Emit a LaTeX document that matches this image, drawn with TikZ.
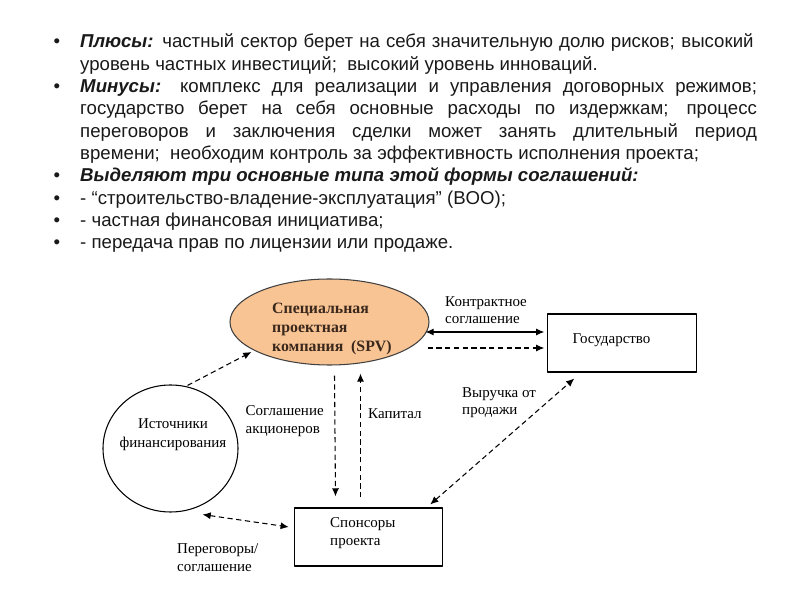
\documentclass[tikz,border=0pt]{standalone}
\usepackage{fontspec}
\setmainfont{Liberation Serif}
\newfontfamily\bodysans{Liberation Sans}
\usetikzlibrary{shapes.geometric,calc,arrows.meta}
\definecolor{spvfill}{RGB}{249,196,148}
\definecolor{spvtext}{RGB}{58,40,28}
\definecolor{inkgray}{RGB}{25,25,25}
\tikzset{
  txtline/.style={anchor=base west, inner sep=0pt, font=\bodysans\fontsize{15.9}{19}\selectfont, text=inkgray},
  lbl/.style={anchor=north west, inner sep=0pt, align=left, font=\fontsize{12.8}{15.3}\selectfont},
  boxnode/.style={draw, line width=0.9pt, minimum width=4.45cm, minimum height=1.74cm, inner sep=0pt},
  dsh/.style={dash pattern=on 4.5pt off 3pt, line width=0.9pt}
}
\begin{document}
\begin{tikzpicture}[x=0.03cm, y=-0.03cm, >={Latex[length=7pt,width=6pt]}, line join=round]
\useasboundingbox (0,0) rectangle (800,600);
% text above the diagram
\foreach \i/\y in {1/48, 3/92.6, 7/181.8, 8/204.1, 9/226.4, 10/248.7} {
  \node[anchor=base, inner sep=0pt, text=inkgray, font=\bodysans\fontsize{15.9}{19}\selectfont] (b\i) at (57,\y) {•};
}
\node[txtline] (l1) at (80,48) {\makebox[20.2cm][s]{\textbf{\textit{Плюсы:}} частный сектор берет на себя значительную долю рисков; высокий}};
\node[txtline] (l2) at (80,70.3) {уровень частных инвестиций;\ \ высокий уровень инноваций.};
\node[txtline] (l3) at (80,92.6) {\makebox[20.3cm][s]{\textbf{\textit{Минусы:}} комплекс для реализации и управления договорных режимов;}};
\node[txtline] (l4) at (80,114.9) {\makebox[20.3cm][s]{государство берет на себя основные расходы по издержкам; процесс}};
\node[txtline] (l5) at (80,137.2) {\makebox[20.3cm][s]{переговоров и заключения сделки может занять длительный период}};
\node[txtline] (l6) at (80,159.5) {времени;\ \ необходим контроль за эффективность исполнения проекта;};
\node[txtline] (l7) at (80,181.8) {\textbf{\textit{Выделяют три основные типа этой формы соглашений:}}};
\node[txtline] (l8) at (80,204.1) {- “строительство-владение-эксплуатация” (BOO);};
\node[txtline] (l9) at (80,226.4) {- частная финансовая инициатива;};
\node[txtline] (l10) at (80,248.7) {- передача прав по лицензии или продаже.};
% diagram
\node[ellipse, draw=black!75, fill=spvfill, line width=0.9pt, minimum width=5.97cm, minimum height=2.58cm, inner sep=0pt] (spv) at (329.5,322) {};
\node[anchor=north west, inner sep=0pt, align=left, text=spvtext, font=\bfseries\fontsize{13.5}{16.2}\selectfont] (spvname) at (272,303) {Специальная\\проектная\\компания\ \ (SPV)};
\node[boxnode] (gos) at (622,343) {};
\node[anchor=base west, inner sep=0pt, font=\fontsize{12.8}{15}\selectfont] (gosname) at (572.5,344) {Государство};
\node[ellipse, draw, line width=0.9pt, minimum width=4.05cm, minimum height=3.81cm, inner sep=0pt] (fin) at (170.5,448.5) {};
\node[inner sep=0pt, align=center, font=\fontsize{12.8}{16}\selectfont] (finname) at (173,435) {Источники\\финансирования};
\node[boxnode] (spons) at (368.5,537) {};
\node[lbl] (sponsname) at (330,517) {Спонсоры\\проекта};
% connectors
\draw[<->, line width=0.9pt] ($(spv.east)+(-4,10)$) -- ($(gos.west)+(-3,-11)$);
\draw[dsh, ->] ($(spv.east)+(-2,26)$) -- ($(gos.west)+(-3,5)$);
\draw[dsh, ->] ($(fin.north)+(17,1)$) -- ($(spv.west)+(22,30)$);
\draw[dsh, ->] ($(spv.south)+(5,10)$) -- ($(spons.north)+(-33,-11)$);
\draw[dsh, ->] ($(spons.north)+(-8,-10)$) -- ($(spv.south)+(31,8)$);
\draw[dsh, <->] ($(spons.north east)+(-13,-3)$) -- ($(gos.south west)+(27,6)$);
\draw[dsh, <->] ($(fin.south)+(32,2)$) -- ($(spons.west)+(-5,-10)$);
% labels
\node[lbl] (contract) at (445,296) {Контрактное\\соглашение};
\node[lbl] (shareh) at (245.5,405) {Соглашение\\акционеров};
\node[lbl] (capital) at (368,408) {Капитал};
\node[lbl] (revenue) at (462,387) {Выручка от\\продажи};
\node[lbl] (negot) at (177,543) {Переговоры/\\соглашение};
\end{tikzpicture}
\end{document}
